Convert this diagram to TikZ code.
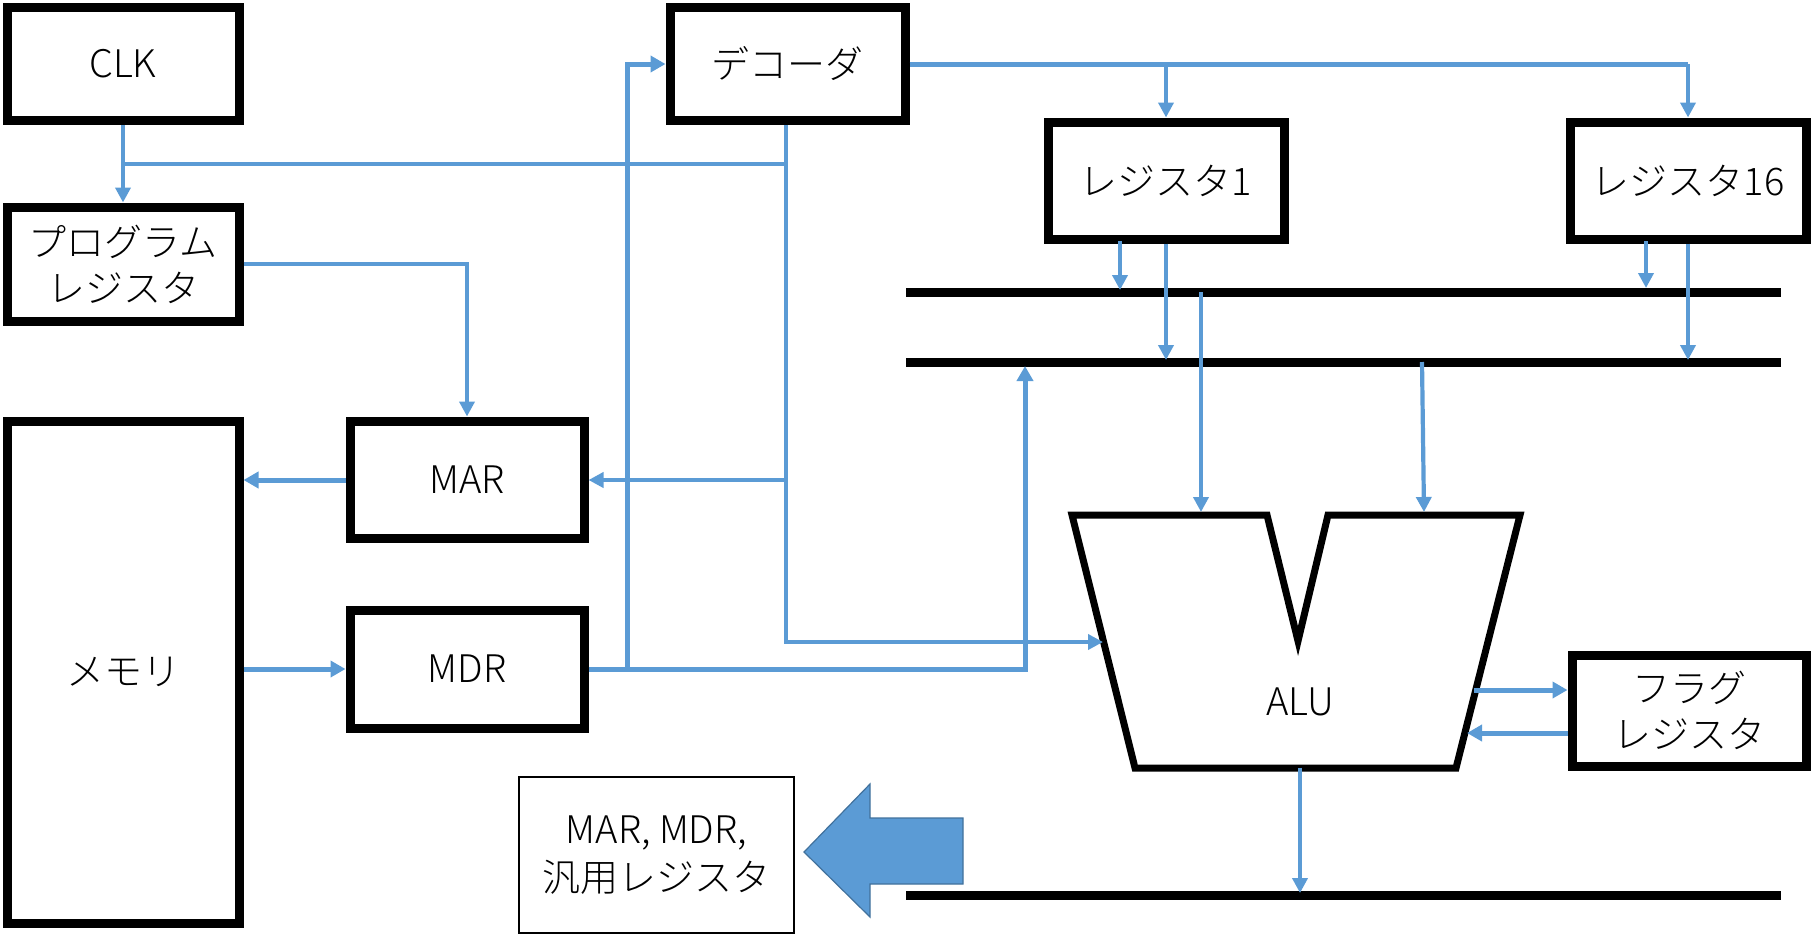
\documentclass[tikz,border=0pt]{standalone}
\usepackage{fontspec}
\setmainfont{Noto Sans CJK JP}[UprightFont=* Light]
\usetikzlibrary{arrows.meta}
\definecolor{wire}{HTML}{5B9BD5}
\definecolor{arrowedge}{HTML}{41719C}
\begin{document}
\begin{tikzpicture}[x=1pt,y=-1pt,
  box/.style={draw=black,line width=9pt,rectangle,fill=white,inner sep=0pt,align=center,
    font=\fontsize{38}{46}\selectfont},
  wireline/.style={draw=wire,line width=4.2pt},
  warrow/.style={wireline,-{Triangle[length=15pt,width=15pt]}},
  wthick/.style={draw=wire,line width=5pt,-{Triangle[length=15pt,width=16pt]}},
  busline/.style={draw=black,line width=9pt},
  lbl/.style={font=\fontsize{38}{46}\selectfont,align=center,inner sep=0pt}]
\useasboundingbox (0,0) rectangle (1811,935);
% boxes
\node[box,minimum width=232pt,minimum height=113pt] (clk) at (123,64) {CLK};
\node[box,minimum width=232pt,minimum height=114pt] (prog) at (123,264) {プログラム\\レジスタ};
\node[box,minimum width=232pt,minimum height=502pt] (mem) at (123,672) {メモリ};
\node[box,minimum width=234pt,minimum height=117pt] (mar) at (467,479.5) {MAR};
\node[box,minimum width=234pt,minimum height=118pt] (mdr) at (467,669) {MDR};
\node[box,minimum width=235pt,minimum height=113pt] (dec) at (787.5,64) {デコーダ};
\node[box,minimum width=236pt,minimum height=117pt] (r1) at (1166,180.5) {レジスタ1};
\node[box,minimum width=236pt,minimum height=117pt] (r16) at (1688,180.5) {レジスタ16};
\node[box,minimum width=234pt,minimum height=111pt] (flag) at (1689,710.5) {フラグ\\レジスタ};
\node[draw=black,line width=1.5pt,rectangle,minimum width=275pt,minimum height=156pt,inner sep=0pt,
  align=center,font=\fontsize{38}{48}\selectfont] (gen) at (656.5,855) {MAR, MDR,\\汎用レジスタ};
% buses
\coordinate (b1l) at (906,292); \coordinate (b1r) at (1781,292);
\coordinate (b2l) at (906,362); \coordinate (b2r) at (1781,362);
\coordinate (b3l) at (906,895); \coordinate (b3r) at (1781,895);
\draw[busline] (b1l) -- (b1r);
\draw[busline] (b2l) -- (b2r);
\draw[busline] (b3l) -- (b3r);
% ALU
\draw[line width=7pt,line join=miter] (1072,515) -- (1267,515) -- (1298,641) -- (1328,515) -- (1520,515) -- (1456,768) -- (1135,768) -- cycle;
\node[lbl] (alu) at (1300,702) {ALU};
\coordinate (alutop1) at (1201,512);
\coordinate (alutop2) at (1424,512);
\coordinate (aluleft) at (1103,642);
\coordinate (alubot) at (1300,768);
\coordinate (aluout) at (1474,690);
\coordinate (aluin) at (1467,733);
% CLK wiring
\coordinate (clkj) at (123,164);
\coordinate (decj) at (786,164);
\draw[warrow] (clk.south) -- (prog.north);
\draw[wireline] (clkj) -- (decj);
% decoder down to MAR and ALU
\coordinate (decb) at (786,125);
\coordinate (marj) at (786,480);
\draw[warrow] (decb) -- (786,642) -- (aluleft);
\draw[warrow] (marj) -- (mar.east |- marj);
% program register to MAR
\draw[warrow] (prog.east) -| (mar.north);
% MAR to memory, memory to MDR
\draw[wthick] (mar.west |- marj) -- (mem.east |- marj);
\coordinate (mdrl) at (mdr.west);
\draw[wthick] (mem.east |- mdrl) -- (mdr.west);
% MDR to bus2 and decoder
\coordinate (mdrbus) at (1025,366);
\draw[wthick] (mdr.east) -| (mdrbus);
\coordinate (mdrj) at (627,669);
\draw[wthick] (mdrj) |- (dec.west);
% decoder to registers
\coordinate (decr) at (1688,64);
\draw[wthick,-] (dec.east) -- (decr);
\draw[warrow] (decr) -- (r16.north);
\draw[warrow] (r1.north |- dec.east) -- (r1.north);
% registers to buses
\draw[warrow] (1120,241) -- (1120,290);
\draw[warrow] (r1.south) -- (1166,360);
\draw[warrow] (1646,241) -- (1646,288);
\draw[warrow] (r16.south) -- (1688,360);
% buses to ALU
\draw[warrow] (1201,292) -- (alutop1);
\draw[warrow] (1422,362) -- (alutop2);
% ALU to bus3
\draw[warrow] (alubot) -- (1300,893);
% ALU <-> flag
\draw[wthick] (aluout) -- (flag.west |- aluout);
\draw[wthick] (flag.west |- aluin) -- (aluin);
% big arrow
\draw[fill=wire,draw=arrowedge,line width=1.2pt] (804,852) -- (870,784) -- (870,818) -- (963,818) -- (963,884) -- (870,884) -- (870,917) -- cycle;
\end{tikzpicture}
\end{document}
